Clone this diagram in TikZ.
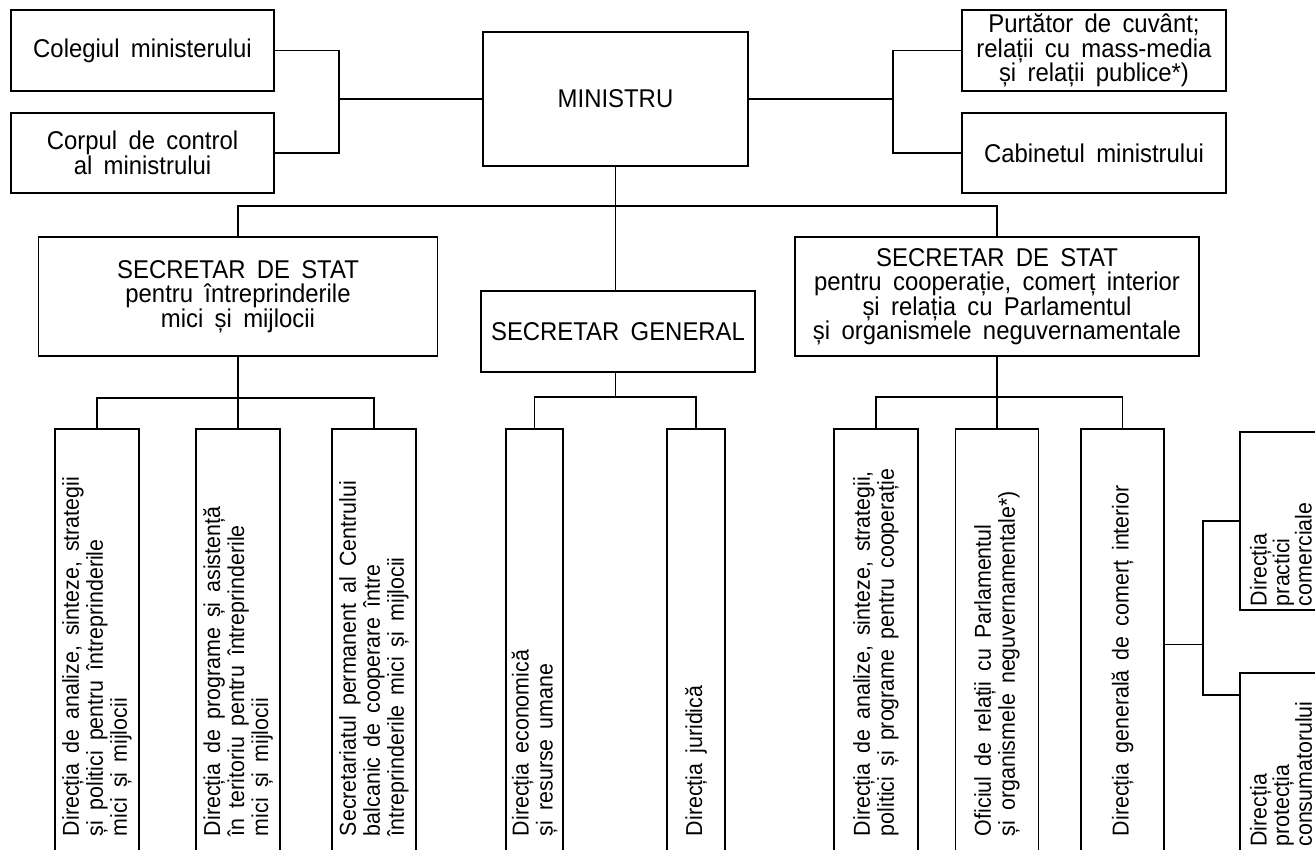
\documentclass[tikz,border=0pt]{standalone}
\usepackage{fontspec}
\setmainfont{Liberation Sans}[FakeStretch=0.93, WordSpace=1.7]
\usepackage{graphicx}

\newcommand{\vlabel}[3][24]{\rotatebox{90}{\begin{minipage}{#2pt}\fontsize{23}{#1}\selectfont\raggedright #3\end{minipage}}}

\tikzset{
  box/.style={draw, line width=1.9pt, align=center, inner sep=0pt, font=\fontsize{25.7}{24.5}\selectfont},
  vbox/.style={draw, line width=1.9pt, inner sep=0pt, minimum height=431pt},
  link/.style={line width=1.8pt},
}

\begin{document}
\begin{tikzpicture}[x=1pt,y=-1pt]
\useasboundingbox (0,0) rectangle (1315,849);

% conducere
\node[box, minimum width=263pt, minimum height=81pt] (colegiu) at (142.5,50.5) {Colegiul ministerului};
\node[box, minimum width=263pt, minimum height=80pt] (corp) at (142.5,153) {Corpul de control\\al ministrului};
\node[box, minimum width=265pt, minimum height=134pt] (ministru) at (615.5,99) {MINISTRU};
\node[box, minimum width=264pt, minimum height=81pt] (purtator) at (1094,50.5) {Purtător de cuvânt;\\relații cu mass-media\\și relații publice*)};
\node[box, minimum width=264pt, minimum height=80pt] (cabinet) at (1094,153) {Cabinetul ministrului};

% secretari
\node[box, minimum width=399pt, minimum height=119pt] (secimm) at (238,296.5) {SECRETAR DE STAT\\pentru întreprinderile\\mici și mijlocii};
\node[box, minimum width=274pt, minimum height=81pt] (secgen) at (618,331.5) {SECRETAR GENERAL};
\node[box, minimum width=404pt, minimum height=119pt] (seccoop) at (997,296.5) {SECRETAR DE STAT\\pentru cooperație, comerț interior\\și relația cu Parlamentul\\și organismele neguvernamentale};

% directii
\node[vbox, minimum width=84pt] (d1) at (97,644.5) {\vlabel{383}{Direcția de analize, sinteze, strategii\\și politici pentru întreprinderile\\mici și mijlocii}};
\node[vbox, minimum width=84pt] (d2) at (238,644.5) {\vlabel{383}{Direcția de programe și asistență\\în teritoriu pentru întreprinderile\\mici și mijlocii}};
\node[vbox, minimum width=84pt] (d3) at (374,644.5) {\vlabel{383}{Secretariatul permanent al Centrului\\balcanic de cooperare între\\întreprinderile mici și mijlocii}};
\node[vbox, minimum width=57pt] (d4) at (534.5,644.5) {\vlabel{383}{Direcția economică\\și resurse umane}};
\node[vbox, minimum width=58pt] (d5) at (696,644.5) {\vlabel{383}{Direcția juridică}};
\node[vbox, minimum width=84pt] (d6) at (876,644.5) {\vlabel{383}{Direcția de analize, sinteze, strategii,\\politici și programe pentru cooperație}};
\node[vbox, minimum width=83pt] (d7) at (997,644.5) {\vlabel{383}{Oficiul de relații cu Parlamentul\\și organismele neguvernamentale*)}};
\node[vbox, minimum width=83pt] (d8) at (1122.5,644.5) {\vlabel{383}{Direcția generală de comerț interior}};
\node[vbox, minimum width=82pt, minimum height=178pt] (d9) at (1281,521) {\vlabel[19]{170}{Direcția\\practici\\comerciale}};
\node[vbox, minimum width=82pt, minimum height=187pt] (d10) at (1281,766.5) {\vlabel[19]{160}{Direcția\\protecția\\consumatorului}};

% legaturi
\coordinate (lb) at (339,99);
\coordinate (rb) at (893,99);
\draw[link] (colegiu.east) -| (lb) |- (corp.east);
\draw[link] (lb) -- (ministru.west);
\draw[link] (purtator.west) -| (rb) |- (cabinet.west);
\draw[link] (rb) -- (ministru.east);

\coordinate (bus) at (615.5,206);
\draw[link] (secimm.north) |- (bus) -| (seccoop.north);
\draw[link] (ministru.south) -- (ministru.south |- secgen.north);

\coordinate (b1) at (238,398);
\draw[link] (secimm.south) -- (d2.north);
\draw[link] (d1.north) |- (b1) -| (d3.north);
\coordinate (b2) at (615.5,397);
\draw[link] (b2 |- secgen.south) -- (b2);
\draw[link] (d4.north) |- (b2) -| (d5.north);
\coordinate (b3) at (997,397);
\draw[link] (seccoop.south) -- (d7.north);
\draw[link] (d6.north) |- (b3) -| (d8.north);

\coordinate (b4) at (1203,644.5);
\coordinate (d10w) at ([yshift=-23pt]d10.north west);
\draw[link] (d8.east) -- (b4);
\draw[link] (d9.west) -| (b4) |- (d10w);
\end{tikzpicture}
\end{document}
